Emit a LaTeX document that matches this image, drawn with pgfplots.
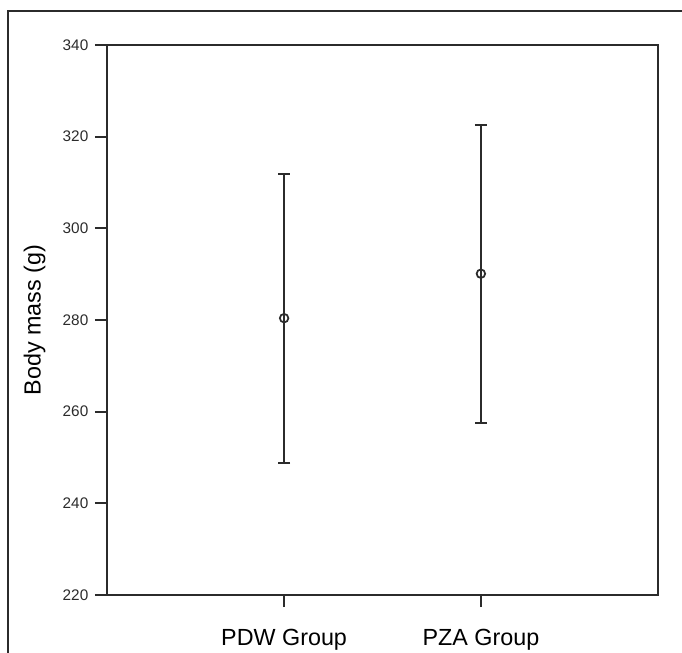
\documentclass[border=0pt]{standalone}
\usepackage{pgfplots}
\pgfplotsset{compat=1.18}
\usepackage{fontspec}
\setmainfont{Liberation Sans}
\definecolor{ink}{HTML}{2B2B2B}
\begin{document}
\begin{tikzpicture}[x=0.75pt,y=0.75pt]
\useasboundingbox (0,0) rectangle (682,653);
\draw[ink,line width=1.3pt] (8,0) -- (8,642) -- (682,642);
\begin{axis}[
  at={(107*0.75pt,58*0.75pt)}, anchor=south west,
  scale only axis, width=413.25pt, height=412.5pt,
  xmin=0.1, xmax=2.9, ymin=220, ymax=340,
  xtick={1,2}, xticklabels={PDW Group, PZA Group},
  ytick={220,240,...,340},
  tick pos=left, tick align=outside, major tick length=9pt,
  axis line style={ink,line width=1.6pt},
  every tick/.style={ink,line width=1.4pt},
  xticklabel style={font=\fontsize{17.5}{20}\selectfont, yshift=-13pt, text=black},
  yticklabel style={font=\fontsize{11.5}{13}\selectfont, xshift=-1.5pt, text=ink},
  /pgf/number format/assume math mode=true,
  ylabel={Body mass (g)},
  ylabel style={font=\fontsize{17.5}{20}\selectfont},
  every axis y label/.append style={at={(ticklabel cs:0.5,6pt)}},
  axis background/.style={fill=white},
  clip=false,
]
\addplot[ink, line width=1.5pt, mark=o, mark size=3.2pt, mark options={line width=1.3pt},
  only marks,
  error bars/.cd, y dir=both, y explicit,
  error bar style={line width=1.5pt, ink},
  error mark options={rotate=90, mark size=4.5pt, line width=1.5pt, ink}]
  coordinates {
    (1,280.4) +- (0,31.5)
    (2,290.1) +- (0,32.5)
  };
\end{axis}
\end{tikzpicture}
\end{document}
